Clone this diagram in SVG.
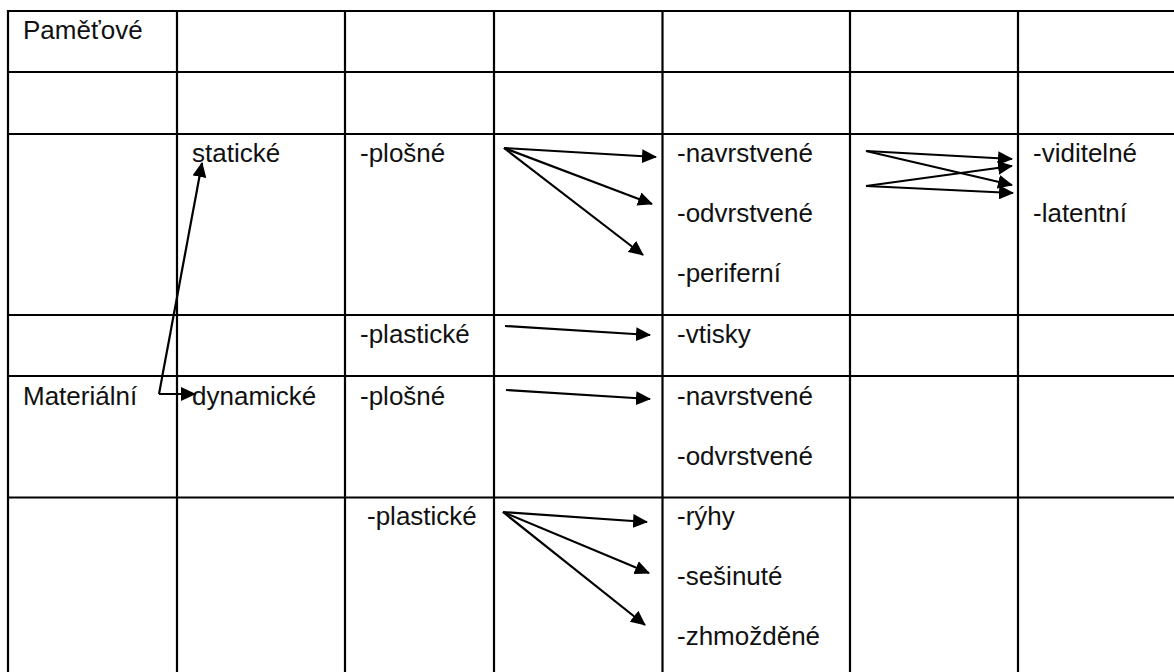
<svg xmlns="http://www.w3.org/2000/svg" width="1174" height="672" viewBox="0 0 1174 672">
<style>
.grid{stroke:#000;stroke-width:2.2;fill:none}
.t{font-family:"Liberation Sans",Arial,sans-serif;font-size:26px;fill:#111}
.c{stroke:#000;stroke-width:2.2;fill:none}
.a{marker-end:url(#ah)}
</style>
<defs>
<marker id="ah" markerUnits="userSpaceOnUse" markerWidth="16" markerHeight="14" refX="14" refY="7" orient="auto">
<path d="M0,0 L15,7 L0,14 z" fill="#000"/>
</marker>
</defs>
<rect width="1174" height="672" fill="#fff"/>
<g id="table" class="grid">
<path d="M7,11 H1174 M7,72 H1174 M7,134 H1174 M7,315 H1174 M7,376 H1174 M7,497.5 H1174"/>
<path d="M8,10 V672 M177,10 V672 M345,10 V672 M494,10 V672 M662.5,10 V672 M850,10 V672 M1018,10 V672"/>
</g>
<g id="pametove"><text class="t" x="23" y="39">Paměťové</text></g>
<g id="staticke"><text class="t" x="192" y="162">statické</text></g>
<g id="plosne1"><text class="t" x="360" y="162">-plošné</text></g>
<g id="typy1"><text class="t" x="677" y="162">-navrstvené</text><text class="t" x="677" y="222">-odvrstvené</text><text class="t" x="677" y="282">-periferní</text></g>
<g id="viditelnost"><text class="t" x="1033" y="162">-viditelné</text><text class="t" x="1033" y="222">-latentní</text></g>
<g id="plasticke1"><text class="t" x="360" y="343">-plastické</text></g>
<g id="vtisky"><text class="t" x="677" y="343">-vtisky</text></g>
<g id="materialni"><text class="t" x="23" y="405">Materiální</text></g>
<g id="dynamicke"><text class="t" x="192" y="405">dynamické</text></g>
<g id="plosne2"><text class="t" x="360" y="405">-plošné</text></g>
<g id="typy2"><text class="t" x="677" y="405">-navrstvené</text><text class="t" x="677" y="465">-odvrstvené</text></g>
<g id="plasticke2"><text class="t" x="367" y="525">-plastické</text></g>
<g id="typy3"><text class="t" x="677" y="525">-rýhy</text><text class="t" x="677" y="585">-sešinuté</text><text class="t" x="677" y="645">-zhmožděné</text></g>
<g id="connectors" class="c">
<path class="a" d="M159,394 L202,163"/>
<path class="a" d="M159,394 L195,394"/>
<path class="a" d="M504,148 L656,157"/>
<path class="a" d="M504,148 L652,204"/>
<path class="a" d="M504,148 L643,255"/>
<path class="a" d="M866,151 L1012,159"/>
<path class="a" d="M866,151 L1012,185"/>
<path class="a" d="M866,186 L1012,166"/>
<path class="a" d="M866,186 L1013,193"/>
<path class="a" d="M505,326 L650,335"/>
<path class="a" d="M506,390 L650,399"/>
<path class="a" d="M503,512 L647,522"/>
<path class="a" d="M503,512 L649,573"/>
<path class="a" d="M503,512 L645,625"/>
</g>
</svg>
